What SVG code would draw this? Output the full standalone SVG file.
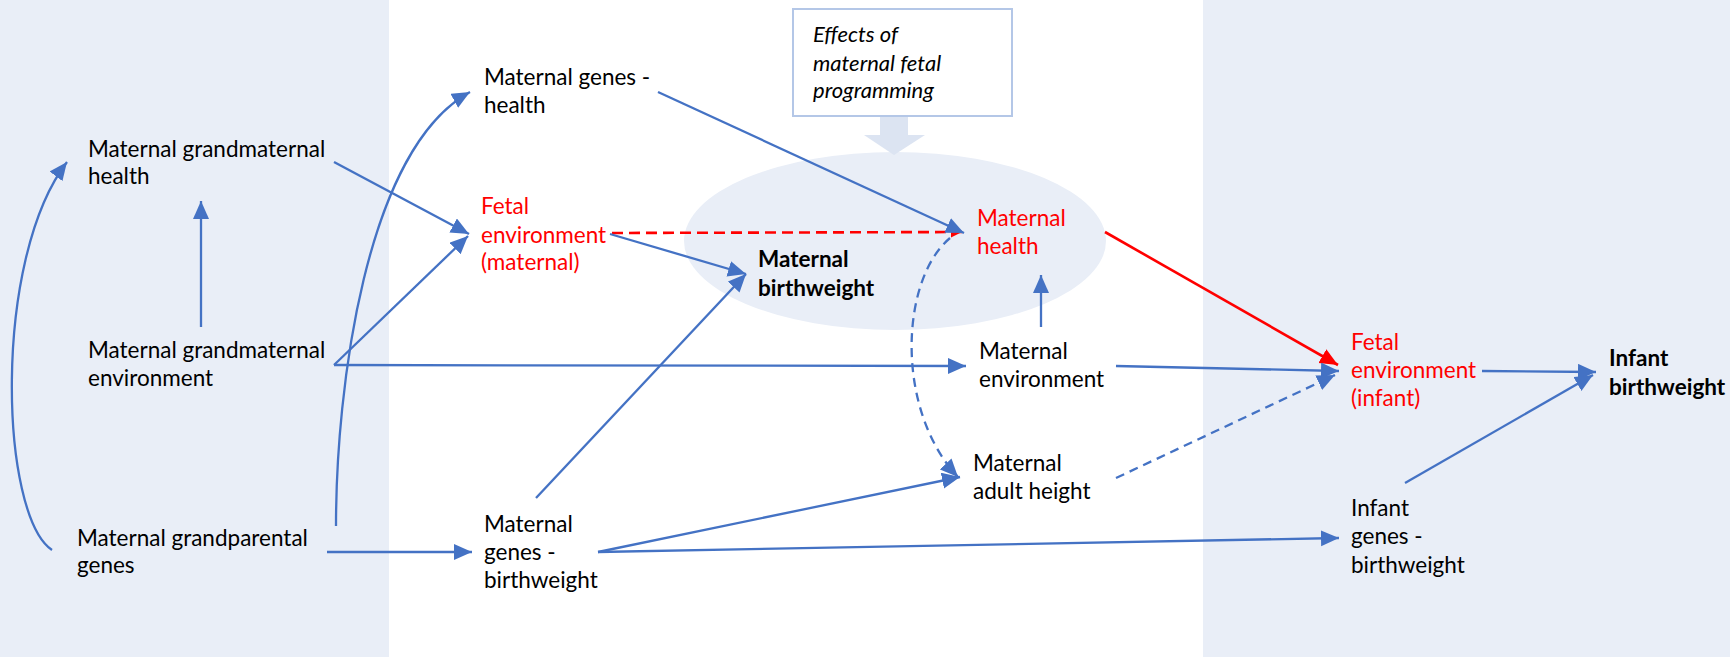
<svg xmlns="http://www.w3.org/2000/svg" width="1730" height="657" viewBox="0 0 1730 657">
<style>
text{font-family:Lato,"Liberation Sans",sans-serif;font-size:22.5px;fill:#000}
.red{fill:#FF0000}
.b{font-weight:700}
.it{font-style:italic;font-size:22px}
.c{fill:none;stroke:#4472C4;stroke-width:2.3}
.cr{fill:none;stroke:#FF0000;stroke-width:2.6}
.dash{stroke-dasharray:9 6}
.dashr{stroke-dasharray:11 6}
</style>
<defs>
<marker id="ab" markerUnits="userSpaceOnUse" markerWidth="19" markerHeight="17" refX="18" refY="8" orient="auto"><path d="M0,0 L18,8 L0,16 z" fill="#4472C4"/></marker>
<marker id="ar" markerUnits="userSpaceOnUse" markerWidth="19" markerHeight="17" refX="18" refY="8" orient="auto"><path d="M0,0 L18,8 L0,16 z" fill="#FF0000"/></marker>
<marker id="ars" markerUnits="userSpaceOnUse" markerWidth="12" markerHeight="11" refX="11" refY="5.5" orient="auto"><path d="M0,0 L11,5.5 L0,11 z" fill="#FF0000"/></marker>
</defs>
<g id="background">
<rect x="0" y="0" width="1730" height="657" fill="#fff"/>
<rect x="0" y="0" width="389" height="657" fill="#E9EEF7"/>
<rect x="1203" y="0" width="527" height="657" fill="#E9EEF7"/>
<ellipse cx="895" cy="241" rx="211" ry="89" fill="#E9EEF7"/>
</g>
<g id="programming-box">
<rect x="793" y="9" width="219" height="107" fill="#fff" stroke="#B4C7E7" stroke-width="2"/>
<text class="it" x="813" y="42">Effects of</text>
<text class="it" x="813" y="71">maternal fetal</text>
<text class="it" x="813" y="98">programming</text>
<path d="M880,117 L908,117 L908,135 L925,135 L894,155 L864,135 L880,135 z" fill="#DCE4F2"/>
</g>
<g id="connectors">
<path class="c" d="M52,550 C0,515 -8,260 67,162" marker-end="url(#ab)"/>
<path class="c" d="M201,327 L201,201" marker-end="url(#ab)"/>
<path class="c" d="M336,526 C336,390 365,150 470,92" marker-end="url(#ab)"/>
<path class="c" d="M334,162 L469,234" marker-end="url(#ab)"/>
<path class="c" d="M334,365 L468,236" marker-end="url(#ab)"/>
<path class="c" d="M334,365 L966,366" marker-end="url(#ab)"/>
<path class="c" d="M327,552 L472,552" marker-end="url(#ab)"/>
<path class="cr dashr" d="M612,233 L962,232" marker-end="url(#ars)"/>
<path class="c" d="M658,92 L964,233" marker-end="url(#ab)"/>
<path class="c" d="M610,234 L746,274" marker-end="url(#ab)"/>
<path class="c" d="M536,498 L746,274" marker-end="url(#ab)"/>
<path class="c" d="M598,552 L960,477" marker-end="url(#ab)"/>
<path class="c" d="M598,552 L1339,538" marker-end="url(#ab)"/>
<path class="c dash" d="M950,238 C900,280 895,410 958,477" marker-end="url(#ab)"/>
<path class="c" d="M1041,327 L1041,275" marker-end="url(#ab)"/>
<path class="cr" d="M1105,232 L1338,365" marker-end="url(#ar)"/>
<path class="c" d="M1116,366 L1339,371" marker-end="url(#ab)"/>
<path class="c dash" d="M1116,478 L1335,375" marker-end="url(#ab)"/>
<path class="c" d="M1482,371 L1596,372" marker-end="url(#ab)"/>
<path class="c" d="M1405,483 L1593,375" marker-end="url(#ab)"/>
</g>
<g id="n-gm-health"><text x="88" y="157">Maternal grandmaternal</text><text x="88" y="184">health</text></g>
<g id="n-gm-env"><text x="88" y="358">Maternal grandmaternal</text><text x="88" y="386">environment</text></g>
<g id="n-gp-genes"><text x="77" y="546">Maternal grandparental</text><text x="77" y="573">genes</text></g>
<g id="n-m-genes-health"><text x="484" y="85">Maternal genes -</text><text x="484" y="113">health</text></g>
<g id="n-fetal-maternal"><text class="red" x="481" y="214">Fetal</text><text class="red" x="481" y="243">environment</text><text class="red" x="481" y="270">(maternal)</text></g>
<g id="n-m-birthweight"><text class="b" x="758" y="267">Maternal</text><text class="b" x="758" y="296">birthweight</text></g>
<g id="n-m-health"><text class="red" x="977" y="226">Maternal</text><text class="red" x="977" y="254">health</text></g>
<g id="n-m-env"><text x="979" y="359">Maternal</text><text x="979" y="387">environment</text></g>
<g id="n-m-height"><text x="973" y="471">Maternal</text><text x="973" y="499">adult height</text></g>
<g id="n-m-genes-bw"><text x="484" y="532">Maternal</text><text x="484" y="560">genes -</text><text x="484" y="588">birthweight</text></g>
<g id="n-fetal-infant"><text class="red" x="1351" y="350">Fetal</text><text class="red" x="1351" y="378">environment</text><text class="red" x="1351" y="406">(infant)</text></g>
<g id="n-infant-bw"><text class="b" x="1609" y="366">Infant</text><text class="b" x="1609" y="395">birthweight</text></g>
<g id="n-infant-genes"><text x="1351" y="516">Infant</text><text x="1351" y="544">genes -</text><text x="1351" y="573">birthweight</text></g>
</svg>
